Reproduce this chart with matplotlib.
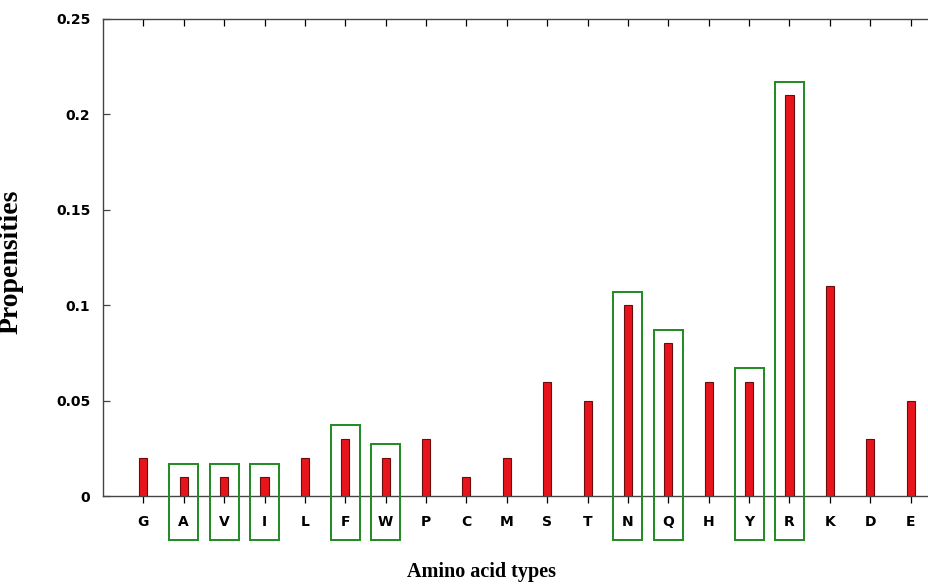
import matplotlib.pyplot as plt
import matplotlib.lines as mlines
from matplotlib.patches import Rectangle

# propensity of each amino acid type
residues = ['G', 'A', 'V', 'I', 'L', 'F', 'W', 'P', 'C', 'M',
            'S', 'T', 'N', 'Q', 'H', 'Y', 'R', 'K', 'D', 'E']
propensities = [0.02, 0.01, 0.01, 0.01, 0.02, 0.03, 0.02, 0.03, 0.01, 0.02,
                0.06, 0.05, 0.10, 0.08, 0.06, 0.06, 0.21, 0.11, 0.03, 0.05]
# residues highlighted with a frame
boxed = ['A', 'V', 'I', 'F', 'W', 'N', 'Q', 'Y', 'R']

fig = plt.figure(figsize=(9.29, 5.84), dpi=100)
ax = fig.add_axes([103 / 929, 88 / 584, 848 / 929, 477 / 584])

xs = list(range(1, len(residues) + 1))
ax.bar(xs, propensities, width=0.2, color='#e8141c', edgecolor='#6a0c0c',
       linewidth=0.8, zorder=3)

# green frames around selected residues, running down past the tick labels
for x, name, val in zip(xs, residues, propensities):
    if name in boxed:
        bottom = -0.023
        top = val + 0.007
        ax.add_patch(Rectangle((x - 0.36, bottom), 0.72, top - bottom,
                               fill=False, edgecolor='#1f8a1f', linewidth=1.4,
                               clip_on=False, zorder=4))

ax.set_xlim(0, 21)
ax.set_ylim(0, 0.25)
ax.set_xticks(xs)
ax.set_xticklabels(residues, fontfamily='DejaVu Sans', fontweight='bold', fontsize=10)
ax.set_yticks([0, 0.05, 0.1, 0.15, 0.2, 0.25])
ax.set_yticklabels(['0', '0.05', '0.1', '0.15', '0.2', '0.25'],
                   fontfamily='DejaVu Sans', fontweight='bold', fontsize=10)

ax.tick_params(axis='x', which='major', bottom=True, top=True, direction='out',
               length=5, width=0.9, pad=9)
ax.tick_params(axis='y', which='major', left=True, right=False, direction='in',
               length=5, width=0.9, pad=9, color='#444444')
# bottom ticks point out, top ticks point in
for t in ax.xaxis.get_major_ticks():
    t.tick1line.set_color('#7a3b2e')
    t.tick2line.set_marker(mlines.TICKDOWN)
    t.tick2line.set_color('#444444')

for side in ['left', 'top', 'bottom']:
    ax.spines[side].set_color('#444444')
    ax.spines[side].set_linewidth(1.0)
ax.spines['right'].set_visible(False)

ax.set_xlabel('Amino acid types', fontfamily='Liberation Serif', fontweight='bold',
              fontsize=14.5)
ax.set_ylabel('Propensities', fontfamily='Liberation Serif', fontweight='bold',
              fontsize=20)
ax.xaxis.set_label_coords(0.446, -0.138)
ax.yaxis.set_label_coords(-0.094, 0.49)

fig.savefig('out.png', dpi=100)
